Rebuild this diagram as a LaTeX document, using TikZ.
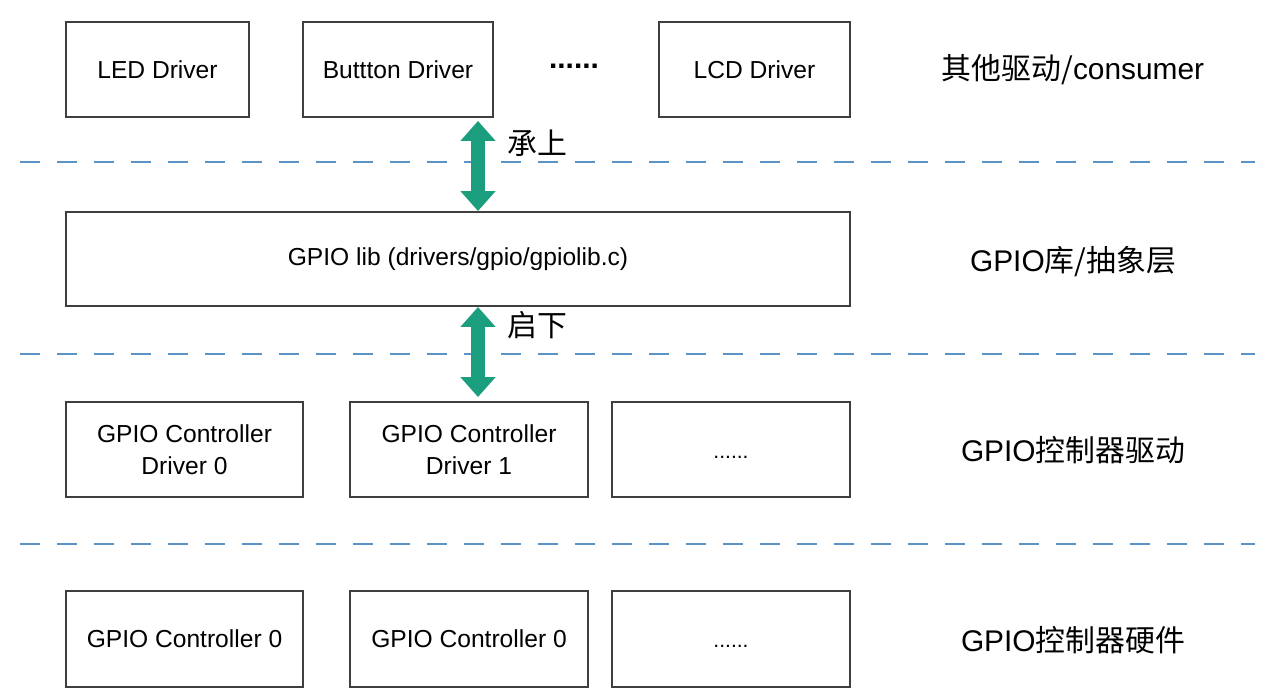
\documentclass[tikz,border=0pt]{standalone}
\usepackage{fontspec}
\setmainfont{Liberation Sans}
\newfontfamily\cjk{Noto Sans CJK SC}
\usepackage{tikz}
\usetikzlibrary{arrows.meta,positioning}
\definecolor{edgec}{HTML}{3F3F3F}
\definecolor{sepc}{HTML}{5B93C7}
\definecolor{upc}{HTML}{1A9E7E}
\newcommand{\lowdots}{\fontsize{12}{14}\selectfont\raisebox{-0.17cm}[0pt][0pt]{......}}

\begin{document}
\begin{tikzpicture}[x=0.02cm,y=-0.02cm,
    box/.style={draw=edgec,line width=1.1pt,minimum height=1.9cm,inner sep=2pt,align=center,font=\fontsize{14}{18}\selectfont},
    lay/.style={font=\fontsize{17}{20}\selectfont},
    sep/.style={sepc,line width=1.1pt,dash pattern=on 0.4cm off 0.34cm},
    updown/.style={upc,line width=0.28cm,{Triangle[width=0.68cm,length=0.4cm]}-{Triangle[width=0.68cm,length=0.4cm]}}]
  \useasboundingbox (0,0) rectangle (1273,698);
  % consumer row
  \node[box,minimum width=3.66cm] (led) at (157.5,69.5) {LED Driver};
  \node[box,minimum width=3.8cm] (btn) at (398,69.5) {Buttton Driver};
  \node[font=\fontsize{17}{20}\selectfont\bfseries] (dots1) at (574,66) {......};
  \node[box,minimum width=3.82cm] (lcd) at (754.5,69.5) {LCD Driver};
  \node[lay] (l1) at (1073,70) {{\cjk 其他驱动/}consumer};
  \draw[sep] (20,162) -- (1255,162);
  % gpiolib
  \node[box,minimum width=15.68cm,minimum height=1.88cm] (lib) at (458,259) {GPIO lib (drivers/gpio/gpiolib.c)};
  \node[lay] (l2) at (1073,262) {GPIO{\cjk 库/抽象层}};
  \draw[sep] (20,354) -- (1255,354);
  % controller drivers
  \node[box,minimum width=4.74cm] (drv0) at (184.5,449.5) {GPIO Controller\\Driver 0};
  \node[box,minimum width=4.76cm] (drv1) at (469,449.5) {GPIO Controller\\Driver 1};
  \node[box,minimum width=4.76cm] (drv2) at (731,449.5) {\lowdots};
  \node[lay] (l3) at (1073,450) {GPIO{\cjk 控制器驱动}};
  \draw[sep] (20,544) -- (1255,544);
  % controller hardware
  \node[box,minimum width=4.74cm,minimum height=1.92cm] (hw0) at (184.5,639) {GPIO Controller 0};
  \node[box,minimum width=4.76cm,minimum height=1.92cm] (hw1) at (469,639) {GPIO Controller 0};
  \node[box,minimum width=4.76cm,minimum height=1.92cm] (hw2) at (731,639) {\lowdots};
  \node[lay] (l4) at (1073,640) {GPIO{\cjk 控制器硬件}};
  % arrows
  \coordinate (ax) at (478,0);
  \draw[updown,shorten <=0.06cm] (ax |- btn.south) -- (ax |- lib.north);
  \node[lay] (up) at (537,143) {\cjk 承上};
  \draw[updown,shorten >=0.08cm] (ax |- lib.south) -- (ax |- drv1.north);
  \node[lay] (down) at (537,325) {\cjk 启下};
\end{tikzpicture}
\end{document}
